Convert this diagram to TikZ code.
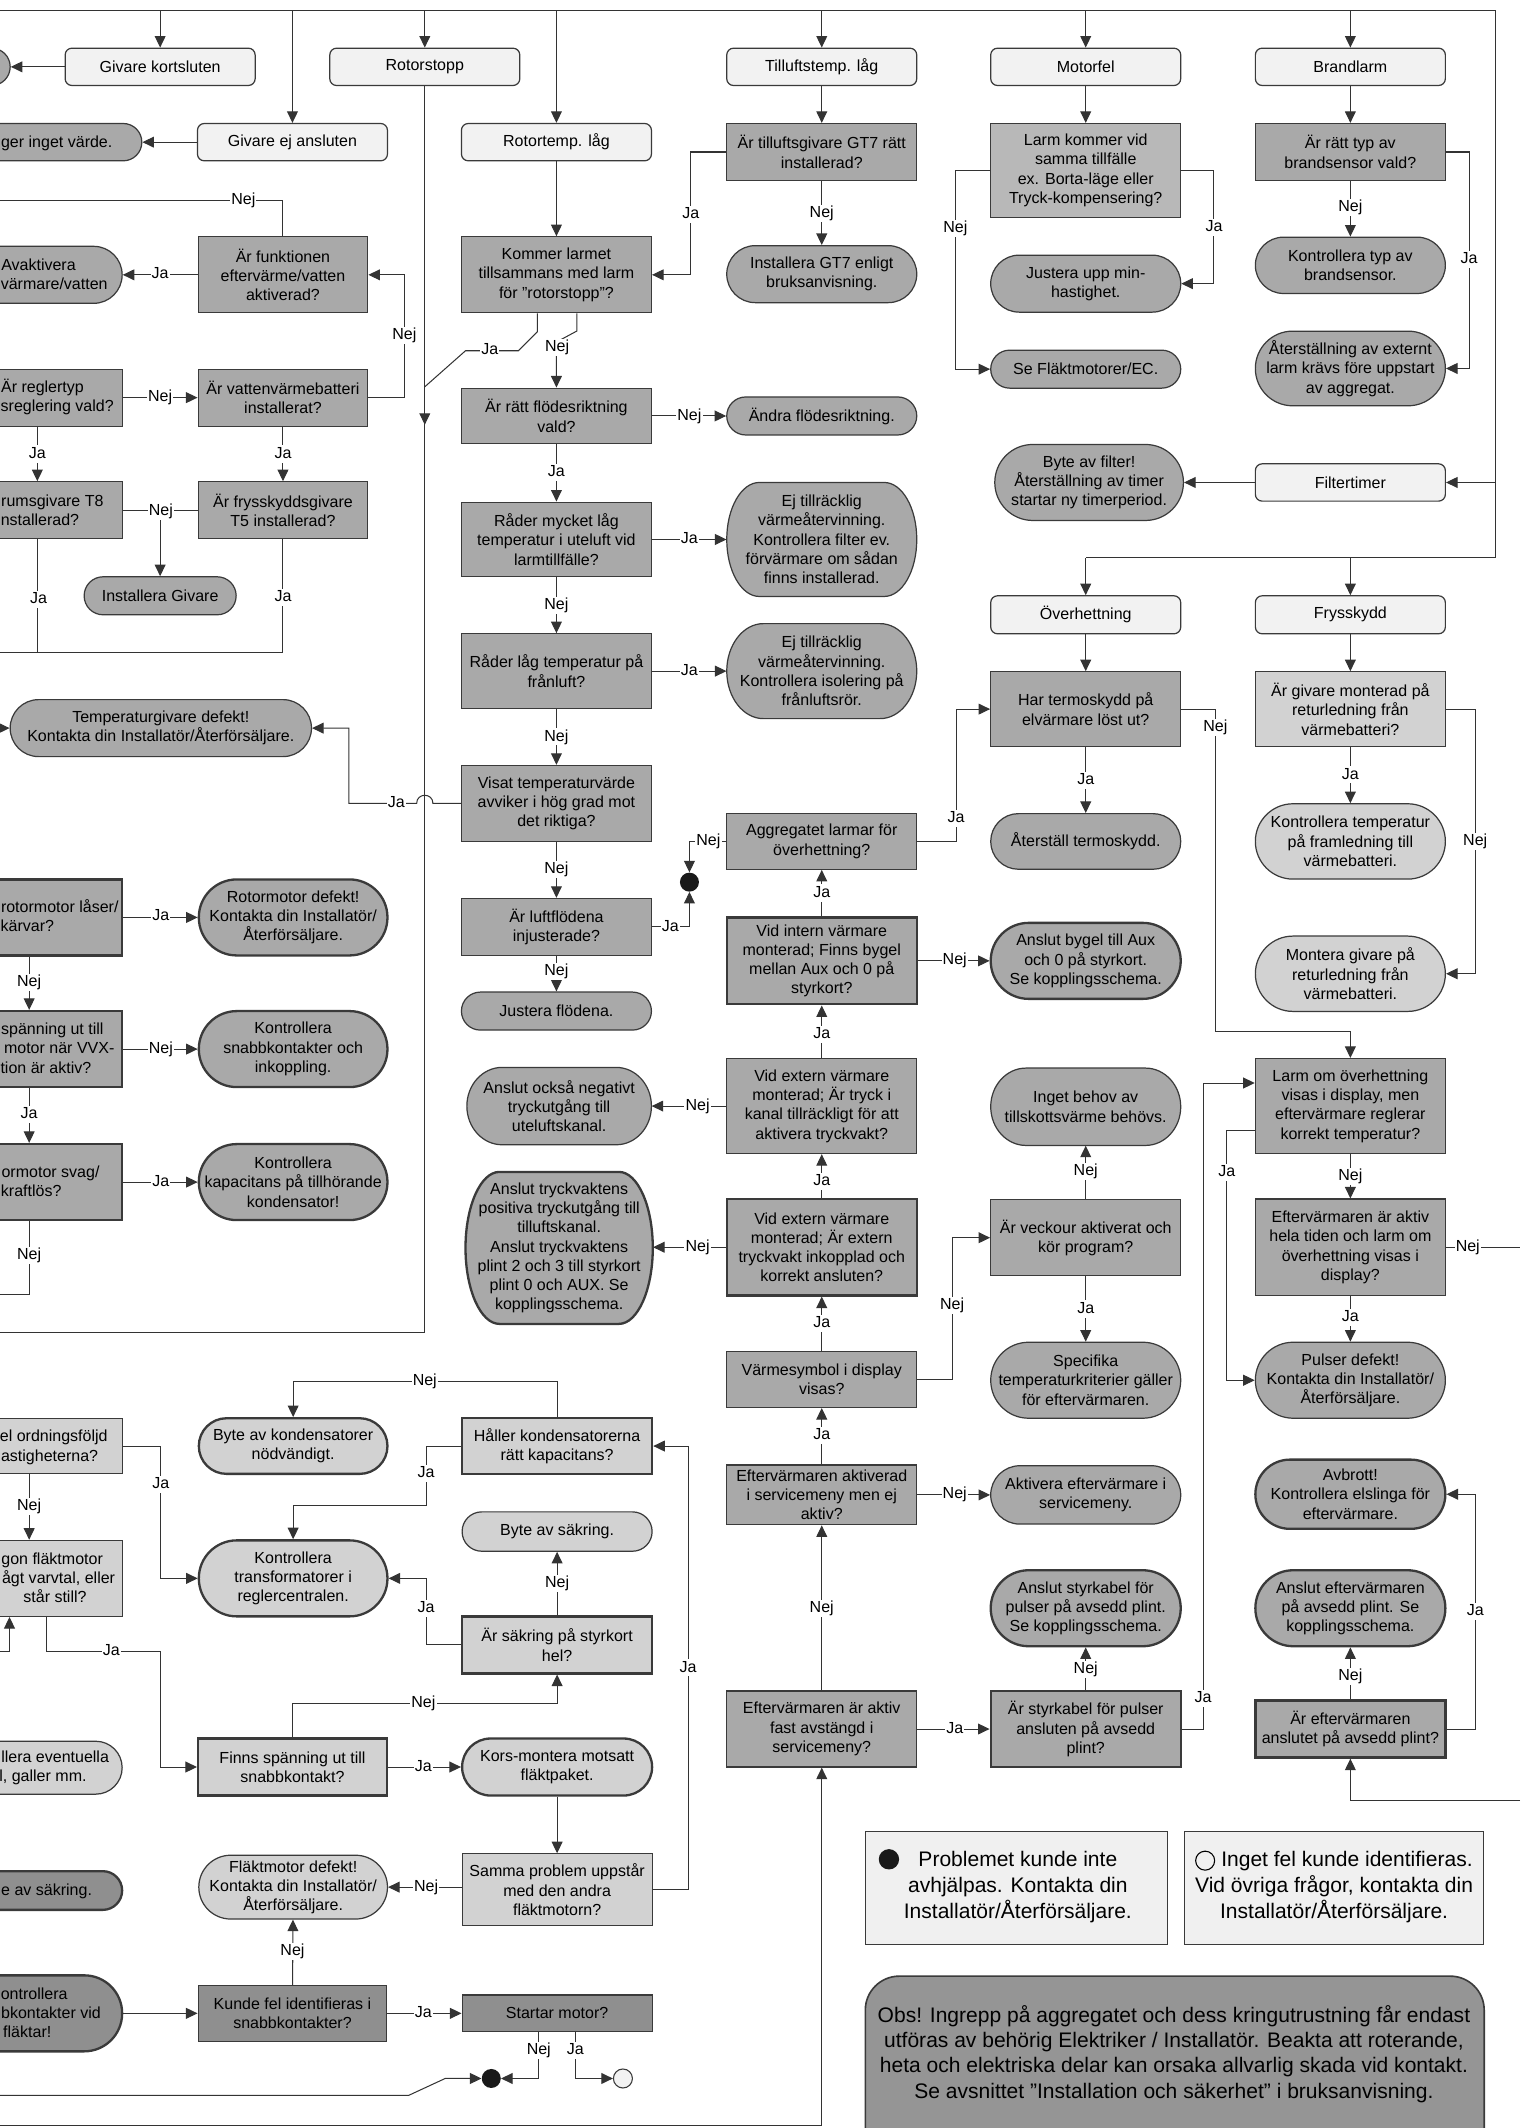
\documentclass[tikz,border=0pt]{standalone}
\usepackage{fontspec}
\setmainfont{Liberation Sans}
\usetikzlibrary{shapes.misc,arrows.meta,calc}
\newcommand{\nfnt}{\fontsize{11.8pt}{14.2pt}\selectfont}
\newcommand{\lgfnt}{\fontsize{15.5pt}{19pt}\selectfont}
\newcommand{\wnfnt}{\fontsize{15.5pt}{18.6pt}\selectfont}
\definecolor{evc}{HTML}{F2F2F2}
\definecolor{midc}{HTML}{A9A9A9}
\definecolor{lkc}{HTML}{B8B8B8}
\definecolor{lgtc}{HTML}{D2D2D2}
\definecolor{drkc}{HTML}{8F8F8F}
\definecolor{warnc}{HTML}{959595}
\definecolor{legc}{HTML}{F0F0F0}
\definecolor{linec}{HTML}{333333}
\definecolor{bordc}{HTML}{3A3A3A}
% terminator shape with elliptical ends: cx, cy, w, h, rx, style
\newcommand{\estad}[6]{%
  \pgfmathsetmacro{\esXl}{#1-#3/2}\pgfmathsetmacro{\esXr}{#1+#3/2}%
  \pgfmathsetmacro{\esYt}{#2-#4/2}\pgfmathsetmacro{\esYb}{#2+#4/2}%
  \pgfmathsetmacro{\esXil}{\esXl+#5}\pgfmathsetmacro{\esXir}{\esXr-#5}%
  \pgfmathsetmacro{\esKx}{0.5523*#5}\pgfmathsetmacro{\esKy}{0.5523*#4/2}%
  \path[#6] (\esXil,\esYt) -- (\esXir,\esYt)
    .. controls ({\esXir+\esKx},\esYt) and (\esXr,{#2-\esKy}) .. (\esXr,#2)
    .. controls (\esXr,{#2+\esKy}) and ({\esXir+\esKx},\esYb) .. (\esXir,\esYb)
    -- (\esXil,\esYb)
    .. controls ({\esXil-\esKx},\esYb) and (\esXl,{#2+\esKy}) .. (\esXl,#2)
    .. controls (\esXl,{#2-\esKy}) and ({\esXil-\esKx},\esYt) .. (\esXil,\esYt) -- cycle;%
}
\begin{document}
\begin{tikzpicture}[x=1pt,y=-1pt,
  base/.style={font=\nfnt, align=center, inner xsep=2pt, inner ysep=1pt, draw=bordc, line width=0.9pt, text=black},
  sz/.style 2 args={minimum width=#1pt, minimum height=#2pt},
  evn/.style={base, rectangle, rounded corners=5pt, fill=evc, minimum width=140pt, minimum height=27.5pt},
  box/.style={base, rectangle, fill=midc},
  stad/.style 2 args={base, rectangle, fill=midc, minimum width=#1pt, minimum height=#2pt, rounded corners={#2*0.499pt}},
  etxt/.style 2 args={font=\nfnt, align=center, inner sep=0pt, text=black, rectangle, minimum width=#1pt, minimum height=#2pt},
  eshape/.style={draw=bordc, line width=0.9pt, fill=midc},
  thk/.style={line width=1.7pt},
  lbl/.style={font=\nfnt, fill=white, inner sep=0.8pt, text height=8.5pt, text depth=2.5pt},
  ct/.style={font=\nfnt, anchor=base east, inner sep=0pt},
  con/.style={draw=linec, line width=0.75pt},
  arr/.style={con, -{Triangle[length=8.5pt,width=8pt]}},
]
\useasboundingbox (0,0) rectangle (1120,1568);
\fill[white] (0,0) rectangle (1120,1568);
\clip (0,0) rectangle (1120,1568);

% ---------- top event nodes
\node[evn] (gk) at (118,49.25) {Givare kortsluten};
\node[evn] (ro) at (313,49.25) {Rotorstopp};
\node[evn] (tl) at (605.5,49.25) {Tilluftstemp. låg};
\node[evn] (mf) at (800,49.25) {Motorfel};
\node[evn] (bl) at (995,49.25) {Brandlarm};
\node[evn] (gea) at (215.5,104.75) {Givare ej ansluten};
\node[evn] (rtl) at (410,104.75) {Rotortemp. låg};
\node[evn] (ft) at (995,355.5) {Filtertimer};
\node[evn, minimum height=28pt] (oh) at (800,453) {Överhettning};
\node[evn, minimum height=28pt] (fs) at (995,453) {Frysskydd};

% ---------- partial nodes at the left edge
\node[stad={75}{27.5}] (lc) at (-30,49.25) {};
\node[stad={165}{27.5}] (gi) at (22,104.75) {};
\node[ct] (git) at (83,108.75) {ger inget värde.};
\node[stad={150}{42}] (avak) at (15,202.5) {};
\node[ct] (avak1) at (56,199.5) {Avaktivera};
\node[ct] (avak2) at (79.5,213.5) {värmare/vatten};
\node[box, sz={150}{42}] (rt) at (15,293) {};
\node[ct] (rt1) at (62,289.5) {Är reglertyp};
\node[ct] (rt2) at (84,303.5) {sreglering vald?};
\node[box, sz={150}{42}] (rg) at (15,376) {};
\node[ct] (rg1) at (76.5,373) {rumsgivare T8};
\node[ct] (rg2) at (58.5,387) {nstallerad?};
\node[box, thk, sz={150}{56}] (rml) at (15,676) {};
\node[ct] (rml1) at (87.5,672.7) {rotormotor låser/};
\node[ct] (rml2) at (40,686.6) {kärvar?};
\node[box, thk, sz={150}{56}] (sp) at (15,773) {};
\node[ct] (sp1) at (76.5,762) {spänning ut till};
\node[ct] (sp2) at (84.5,776.6) {motor när VVX-};
\node[ct] (sp3) at (67.5,791) {tion är aktiv?};
\node[box, thk, sz={150}{56}] (sv) at (15,871) {};
\node[ct] (sv1) at (73.5,867.7) {ormotor svag/};
\node[ct] (sv2) at (45.5,881.8) {kraftlös?};
\node[box, sz={150}{41}, fill=lgtc] (of) at (15,1065.5) {};
\node[ct] (of1) at (79.5,1062) {el ordningsföljd};
\node[ct] (of2) at (72.5,1077) {astigheterna?};
\node[box, sz={150}{56}, fill=lgtc] (fm) at (15,1163) {};
\node[ct] (fm1) at (76,1153) {gon fläktmotor};
\node[ct] (fm2) at (85,1167) {ågt varvtal, eller};
\node[ct] (fm3) at (64,1181) {står still?};
\node[stad={150}{39}, fill=lgtc] (ev) at (15,1302.5) {};
\node[ct] (ev1) at (80.5,1299) {llera eventuella};
\node[ct] (ev2) at (64,1313) {l, galler mm.};
\node[stad={150}{28.5}, thk, fill=drkc] (bsak) at (15,1393) {};
\node[ct] (bsak1) at (68,1397) {e av säkring.};
\node[stad={150}{56}, thk, fill=drkc] (ksb) at (15,1483.5) {};
\node[ct] (ksb1) at (50,1473) {ontrollera};
\node[ct] (ksb2) at (74.5,1487.5) {bkontakter vid};
\node[ct] (ksb3) at (38,1501.5) {fläktar!};

% ---------- decision boxes
\node[box, sz={140}{42}] (gt7) at (605.5,112) {Är tilluftsgivare GT7 rätt\\installerad?};
\node[box, sz={140}{69}, fill=lkc] (lk) at (800,125.5) {Larm kommer vid\\samma tillfälle\\ex. Borta-läge eller\\Tryck-kompensering?};
\node[box, sz={140}{42}] (bs) at (995,112) {Är rätt typ av\\brandsensor vald?};
\node[box, sz={140}{56}] (kl) at (410,202.5) {Kommer larmet\\tillsammans med larm\\för ”rotorstopp”?};
\node[box, sz={140}{41}] (fr) at (410,306.5) {Är rätt flödesriktning\\vald?};
\node[box, sz={140}{55}] (rm) at (410,397.5) {Råder mycket låg\\temperatur i uteluft vid\\larmtillfälle?};
\node[box, sz={140}{55}] (rl) at (410,494.5) {Råder låg temperatur på\\frånluft?};
\node[box, sz={140}{56}] (vt) at (410,592) {Visat temperaturvärde\\avviker i hög grad mot\\det riktiga?};
\node[box, sz={140}{42}] (lf) at (410,683) {Är luftflödena\\injusterade?};
\node[box, sz={140}{41}] (ag) at (605.5,620) {Aggregatet larmar för\\överhettning?};
\node[box, thk, sz={140}{64}] (vi) at (605.5,708) {Vid intern värmare\\monterad; Finns bygel\\mellan Aux och 0 på\\styrkort?};
\node[box, sz={140}{70}] (vet) at (605.5,815) {Vid extern värmare\\monterad; Är tryck i\\kanal tillräckligt för att\\aktivera tryckvakt?};
\node[box, thk, sz={140}{71}] (vek) at (605.5,919) {Vid extern värmare\\monterad; Är extern\\tryckvakt inkopplad och\\korrekt ansluten?};
\node[box, sz={140}{41}] (vs) at (605.5,1016.5) {Värmesymbol i display\\visas?};
\node[box, sz={140}{44}] (eas) at (605.5,1101.5) {Eftervärmaren aktiverad\\i servicemeny men ej\\aktiv?};
\node[box, sz={140}{56}] (eaf) at (605.5,1274) {Eftervärmaren är aktiv\\fast avstängd i\\servicemeny?};
\node[box, sz={140}{55}] (ht) at (800,522.5) {Har termoskydd på\\elvärmare löst ut?};
\node[box, sz={140}{55}, fill=lgtc] (gm) at (995,522.5) {Är givare monterad på\\returledning från\\värmebatteri?};
\node[box, sz={140}{56}] (vk) at (800,912) {Är veckour aktiverat och\\kör program?};
\node[box, thk, sz={140}{56}] (sk) at (800,1274) {Är styrkabel för pulser\\ansluten på avsedd\\plint?};
\node[box, sz={140}{70}] (lo) at (995,815) {Larm om överhettning\\visas i display, men\\eftervärmare reglerar\\korrekt temperatur?};
\node[box, sz={140}{71}] (eh) at (995,919) {Eftervärmaren är aktiv\\hela tiden och larm om\\överhettning visas i\\display?};
\node[box, thk, sz={140}{42}] (ea) at (995,1274) {Är eftervärmaren\\anslutet på avsedd plint?};
\node[box, sz={125}{56}] (fu) at (208.5,202.5) {Är funktionen\\eftervärme/vatten\\aktiverad?};
\node[box, sz={125}{42}] (vv) at (208.5,293) {Är vattenvärmebatteri\\installerat?};
\node[box, sz={125}{42}] (ft5) at (208.5,376) {Är frysskyddsgivare\\T5 installerad?};
\node[box, thk, sz={140}{41}, fill=lgtc] (hk) at (410.5,1065.5) {Håller kondensatorerna\\rätt kapacitans?};
\node[box, thk, sz={140}{42}, fill=lgtc] (sps) at (410.5,1212) {Är säkring på styrkort\\hel?};
\node[box, thk, sz={139}{42}, fill=lgtc] (fsp) at (215.5,1302) {Finns spänning ut till\\snabbkontakt?};
\node[box, sz={140}{53}, fill=lgtc] (sa) at (410.5,1392.5) {Samma problem uppstår\\med den andra\\fläktmotorn?};
\node[box, sz={139}{41}, fill=drkc] (kfi) at (215.5,1483.5) {Kunde fel identifieras i\\snabbkontakter?};
\node[box, sz={140}{27}, fill=drkc] (sm) at (410.5,1483.5) {Startar motor?};

% ---------- result nodes
\node[stad={140}{42}] (gt7i) at (605.5,202) {Installera GT7 enligt\\bruksanvisning.};
\node[stad={140}{28}] (af) at (605.5,306.5) {Ändra flödesriktning.};
\estad{605.5}{397.5}{140}{84}{24}{eshape}
\node[etxt={140}{84}] (ej1) at (605.5,397.5) {Ej tillräcklig\\värmeåtervinning.\\Kontrollera filter ev.\\förvärmare om sådan\\finns installerad.};
\estad{605.5}{494.5}{140}{70}{27}{eshape}
\node[etxt={140}{70}] (ej2) at (605.5,494.5) {Ej tillräcklig\\värmeåtervinning.\\Kontrollera isolering på\\frånluftsrör.};
\node[stad={140}{28}] (ja) at (410,745) {Justera flödena.};
\estad{412}{815}{136}{57}{26}{eshape}
\node[etxt={136}{57}] (ao) at (412,815) {Anslut också negativt\\tryckutgång till\\uteluftskanal.};
\estad{412}{919.5}{138}{112}{25}{eshape, thk}
\node[etxt={138}{112}] (at) at (412,919.5) {Anslut tryckvaktens\\positiva tryckutgång till\\tilluftskanal.\\Anslut tryckvaktens\\plint 2 och 3 till styrkort\\plint 0 och AUX. Se\\kopplingsschema.};
\node[stad={140}{42}] (ju) at (800,209) {Justera upp min-\\hastighet.};
\node[stad={140}{28}] (sf) at (800,272) {Se Fläktmotorer/EC.};
\node[stad={140}{41.5}] (kb) at (995,195.5) {Kontrollera typ av\\brandsensor.};
\node[stad={140}{55}] (as) at (995,271.5) {Återställning av externt\\larm krävs före uppstart\\av aggregat.};
\node[stad={139}{56}] (bf) at (802.5,355.5) {Byte av filter!\\Återställning av timer\\startar ny timerperiod.};
\node[stad={140}{41}] (ats) at (800,620) {Återställ termoskydd.};
\node[stad={140}{55.5}, fill=lgtc] (kt2) at (995,620) {Kontrollera temperatur\\på framledning till\\värmebatteri.};
\node[stad={140}{55.5}, fill=lgtc] (mg) at (995,717.5) {Montera givare på\\returledning från\\värmebatteri.};
\node[stad={140}{56}, thk] (ab) at (800,708) {Anslut bygel till Aux\\och 0 på styrkort.\\Se kopplingsschema.};
\estad{800}{815.5}{140}{57}{26}{eshape}
\node[etxt={140}{57}] (ib) at (800,815.5) {Inget behov av\\tillskottsvärme behövs.};
\node[stad={140}{56}] (spf) at (800,1017) {Specifika\\temperaturkriterier gäller\\för eftervärmaren.};
\node[stad={140}{43}] (aet) at (800,1101.5) {Aktivera eftervärmare i\\servicemeny.};
\node[stad={140}{56}, thk] (asp) at (800,1185) {Anslut styrkabel för\\pulser på avsedd plint.\\Se kopplingsschema.};
\node[stad={140}{56}] (pd) at (995,1017) {Pulser defekt!\\Kontakta din Installatör/\\Återförsäljare.};
\node[stad={140}{51}, thk] (av) at (995,1101) {Avbrott!\\Kontrollera elslinga för\\eftervärmare.};
\node[stad={140}{56}, thk] (aep) at (995,1185) {Anslut eftervärmaren\\på avsedd plint. Se\\kopplingsschema.};
\node[stad={112}{28}] (ig) at (118,439) {Installera Givare};
\node[stad={222}{42}] (td) at (118.5,536.5) {Temperaturgivare defekt!\\Kontakta din Installatör/Återförsäljare.};
\node[stad={139}{56}, thk] (rmd) at (216,676) {Rotormotor defekt!\\Kontakta din Installatör/\\Återförsäljare.};
\node[stad={139}{56}, thk] (ks) at (216,773) {Kontrollera\\snabbkontakter och\\inkoppling.};
\node[stad={139}{56}, thk] (kk) at (216,871) {Kontrollera\\kapacitans på tillhörande\\kondensator!};
\node[stad={139}{41}, thk, fill=lgtc] (bk) at (216,1065.5) {Byte av kondensatorer\\nödvändigt.};
\node[stad={140}{29}, fill=lgtc] (bsa) at (410.5,1128.5) {Byte av säkring.};
\node[stad={139}{56}, thk, fill=lgtc] (kt) at (216,1163) {Kontrollera\\transformatorer i\\reglercentralen.};
\node[stad={140}{42}, thk, fill=lgtc] (km) at (410.5,1302) {Kors-montera motsatt\\fläktpaket.};
\node[stad={139}{47}, fill=lgtc] (fmd) at (216,1390.5) {Fläktmotor defekt!\\Kontakta din Installatör/\\Återförsäljare.};

% terminal circles
\node[circle, fill=black!90, minimum size=14pt, inner sep=0pt] (bc) at (508,650) {};
\node[circle, fill=black!90, minimum size=14pt, inner sep=0pt] (bc2) at (362,1531.5) {};
\node[circle, draw=bordc, line width=0.8pt, fill=evc, minimum size=14pt, inner sep=0pt] (wc) at (459,1531.5) {};

% ---------- legend and warning
\node[draw=bordc, line width=0.9pt, fill=legc, sz={222}{83.5}] (lg1) at (749,1391) {};
\node[font=\lgfnt, align=center] (lg1t) at (750,1390.5) {Problemet kunde inte\\avhjälpas. Kontakta din\\Installatör/Återförsäljare.};
\node[circle, fill=black!90, minimum size=15pt, inner sep=0pt] (lg1d) at (655,1370) {};
\node[draw=bordc, line width=0.9pt, fill=legc, sz={220}{83.5}] (lg2) at (983,1391) {};
\node[font=\lgfnt, align=center] (lg2t) at (983,1390.5) {\hspace*{19pt}Inget fel kunde identifieras.\\Vid övriga frågor, kontakta din\\Installatör/Återförsäljare.};
\node[circle, draw=black, line width=0.8pt, minimum size=14pt, inner sep=0pt] (lg2c) at (888,1371) {};
\node[draw=bordc, line width=1.2pt, fill=warnc, rounded corners=25pt, sz={456}{150}, anchor=north west] (wb) at (637,1455.5) {};
\node[font=\wnfnt, align=center] (wbt) at (865,1513.5) {Obs! Ingrepp på aggregatet och dess kringutrustning får endast\\utföras av behörig Elektriker / Installatör. Beakta att roterande,\\heta och elektriska delar kan orsaka allvarlig skada vid kontakt.\\Se avsnittet ”Installation och säkerhet” i bruksanvisning.};

% ---------- connectors
\coordinate (tb0) at (0,7.4);
\coordinate (tb1) at (1102,7.4);
\coordinate (rb) at (1102,411);
\draw[con] (tb0) -- (tb1) -- (rb) -- (oh |- rb);
\foreach \n in {gk,gea,ro,rtl,tl,mf,bl} { \draw[arr] (\n |- tb0) -- (\n); }
\draw[arr] (oh |- rb) -- (oh);
\draw[arr] (fs |- rb) -- (fs);
\draw[arr] (ft -| tb1) -- (ft);
\draw[arr] (ft) -- (bf);
\draw[arr] (gk) -- (lc);
\draw[arr] (gea) -- (gi);
% rotorstopp line
\draw[con] (ro.south) -- (313,982) -- (0,982);
\draw[con] ([xshift=-14pt]kl.south) -- ++(0,13.5) -- ++(-14,14) -- ++(-39,0) -- (313,285);
\draw[arr] (313,284) -- (313,313);
\draw[arr] ([xshift=15pt]kl.south) -- ++(0,13) -- (410,252) -- (fr);
\draw[arr] (gt7.west) -- (509,112) -- (509,202.5) -- (kl.east);
\draw[arr] (gt7) -- (gt7i);
\draw[arr] (tl) -- (gt7);
\draw[arr] (rtl) -- (kl);
\draw[arr] (fr) -- (af);
\draw[arr] (fr) -- (rm);
\draw[arr] (rm) -- (ej1);
\draw[arr] (rm) -- (rl);
\draw[arr] (rl) -- (ej2);
\draw[arr] (rl) -- (vt);
\draw[arr] (vt.west) -- (319,592) .. controls (319,584) and (307,584) .. (307,592) -- (257,592) -- (257,536.5) -- (td.east);
\draw[arr] (vt) -- (lf);
\draw[arr] (lf.east) -- (508,683) -- (bc.south);
\draw[arr] (ag.west) -- (508,620) -- (bc.north);
\draw[arr] (lf) -- (ja);
\draw[arr] (ag.east) -- (704.5,620) -- (704.5,522.5) -- (ht.west);
\draw[arr] (vi) -- (ag);
\draw[arr] (vi) -- (ab);
\draw[arr] (vet) -- (vi);
\draw[arr] (vet) -- (ao);
\draw[arr] (vek) -- (vet);
\draw[arr] (vek.west) -- (at.east |- vek.west);
\draw[arr] (vs) -- (vek);
\draw[arr] (vs.east) -- (701.5,1016.5) -- (701.5,912) -- (vk.west);
\draw[arr] (eas) -- (vs);
\draw[arr] (eas) -- (aet);
\draw[arr] (eaf) -- (eas);
\draw[arr] (eaf) -- (sk);
\draw[arr] (0,1566) -- (eaf |- 0,1566) -- (eaf.south);
\draw[arr] (mf) -- (lk);
\draw[arr] (lk.east) -- (894.5,125.5) -- (894.5,209) -- (ju.east);
\draw[arr] (lk.west) -- (704,125.5) -- (704,272) -- (sf.west);
\draw[arr] (bl) -- (bs);
\draw[arr] (bs) -- (kb);
\draw[arr] (bs.east) -- (1082.5,112) -- (1082.5,271.5) -- (as.east);
\draw[arr] (oh) -- (ht);
\draw[arr] (ht) -- (ats);
\draw[arr] (ht.east) -- (895.5,522.5) -- (895.5,760) -- (995,760) -- (lo.north);
\draw[arr] (fs) -- (gm);
\draw[arr] (gm) -- (kt2);
\draw[arr] (gm.east) -- (1087,522.5) -- (1087,717.5) -- (mg.east);
\draw[arr] ([yshift=-18pt]lo.west) -- (904,833) -- (904,1017) -- (pd.west);
\draw[arr] (lo) -- (eh);
\draw[arr] (eh) -- (pd);
\draw[con] (eh.east) -- (1120,919);
\draw[arr] (sk.east) -- (886.5,1274) -- (886.5,798) -- ([yshift=17pt]lo.west);
\draw[arr] (sk) -- (asp);
\draw[arr] (vk) -- (ib);
\draw[arr] (vk) -- (spf);
\draw[arr] (ea) -- (aep);
\draw[arr] (ea.east) -- (1087,1274) -- (1087,1101) -- (av.east);
\draw[arr] (1120,1327) -- (995,1327) -- (ea.south);
% left part
\draw[con] (fu.north) -- (208.5,148) -- (0,148);
\draw[arr] (fu) -- (avak);
\draw[arr] (vv.east) -- (298,293) -- (298,202.5) -- (fu.east);
\draw[arr] (rt) -- (vv);
\draw[arr] ([xshift=12.5pt]rt.south) -- ([xshift=12.5pt]rg.north);
\draw[arr] (vv) -- (ft5);
\draw[con] (rg.east) -- (ft5.west);
\draw[arr] (118,376) -- (ig.north);
\draw[con] ([xshift=12.5pt]rg.south) -- (27.5,480.5);
\draw[con] (ft5.south) -- (208.5,480.5) -- (0,480.5);
\draw[arr] (-20,536.5) -- (td.west);
\draw[arr] (rml) -- (rmd);
\draw[arr] ([xshift=6.5pt]rml.south) -- ([xshift=6.5pt]sp.north);
\draw[arr] (sp) -- (ks);
\draw[arr] ([xshift=6.5pt]sp.south) -- ([xshift=6.5pt]sv.north);
\draw[arr] (sv) -- (kk);
\draw[con] ([xshift=6.5pt]sv.south) -- (21.5,954) -- (0,954);
\draw[arr] (of.east) -- (118.5,1065.5) -- (118.5,1163) -- (kt.west);
\draw[arr] ([xshift=6.5pt]of.south) -- ([xshift=6.5pt]fm.north);
\draw[arr] (hk.north) -- (410.5,1018) -- (216,1018) -- (bk.north);
\draw[arr] (hk.west) -- (314,1065.5) -- (314,1109) -- (216,1109) -- (kt.north);
\draw[arr] (sps.west) -- (314,1212) -- (314,1163) -- (kt.east);
\draw[arr] (sps) -- (bsa);
\draw[arr] (fsp.north) -- (215.5,1255) -- (410.5,1255) -- (sps.south);
\draw[arr] (fsp) -- (km);
\draw[arr] (km) -- (sa);
\draw[arr] (sa.east) -- (507,1392.5) -- (507,1065.5) -- (hk.east);
\draw[arr] (sa.west |- fmd) -- (fmd.east);
\draw[arr] (kfi) -- (fmd);
\draw[arr] (kfi) -- (sm);
\draw[arr] (ksb) -- (kfi);
\draw[arr] ([xshift=-13.5pt]sm.south) -- (397,1531.5) -- (bc2.east);
\draw[arr] ([xshift=13.5pt]sm.south) -- (424,1531.5) -- (wc.west);
\draw[arr] (0,1544) -- (301,1544) -- (328,1531.5) -- (bc2.west);
\draw[arr] (0,1217) -- (7,1217) -- (fm.south -| 7,0);
\draw[arr] ([xshift=19.5pt]fm.south) -- (34.5,1217) -- (118.5,1217) -- (118.5,1302) -- (fsp.west);

% ---------- connector labels
\node[lbl] (l01) at (361,258) {Ja};
\node[lbl] (l02) at (410.5,256) {Nej};
\node[lbl] (l03) at (509,158) {Ja};
\node[lbl] (l04) at (605.5,157) {Nej};
\node[lbl] (l05) at (508,306.5) {Nej};
\node[lbl] (l06) at (410,348) {Ja};
\node[lbl] (l07) at (508,397.5) {Ja};
\node[lbl] (l08) at (410,446) {Nej};
\node[lbl] (l09) at (508,494.5) {Ja};
\node[lbl] (l10) at (410,543) {Nej};
\node[lbl] (l11) at (292,592) {Ja};
\node[lbl] (l12) at (410,640.5) {Nej};
\node[lbl] (l13) at (494,683) {Ja};
\node[lbl] (l14) at (522,620) {Nej};
\node[lbl] (l15) at (410,716) {Nej};
\node[lbl] (l16) at (704.5,603) {Ja};
\node[lbl] (l17) at (605.5,658) {Ja};
\node[lbl] (l18) at (703.5,708) {Nej};
\node[lbl] (l19) at (605.5,762) {Ja};
\node[lbl] (l20) at (514,815) {Nej};
\node[lbl] (l21) at (605.5,870.5) {Ja};
\node[lbl] (l22) at (514,919) {Nej};
\node[lbl] (l23) at (605.5,975) {Ja};
\node[lbl] (l24) at (701.5,962) {Nej};
\node[lbl] (l25) at (605.5,1058) {Ja};
\node[lbl] (l26) at (703.5,1101.5) {Nej};
\node[lbl] (l27) at (605.5,1185) {Nej};
\node[lbl] (l28) at (703.5,1274) {Ja};
\node[lbl] (l29) at (894.5,167.5) {Ja};
\node[lbl] (l30) at (704,168.5) {Nej};
\node[lbl] (l31) at (995,153) {Nej};
\node[lbl] (l32) at (1082.5,191.5) {Ja};
\node[lbl] (l33) at (800,575) {Ja};
\node[lbl] (l34) at (895.5,536) {Nej};
\node[lbl] (l35) at (995,571) {Ja};
\node[lbl] (l36) at (1087,620) {Nej};
\node[lbl] (l37) at (904,864) {Ja};
\node[lbl] (l38) at (995,867) {Nej};
\node[lbl] (l39) at (995,971) {Ja};
\node[lbl] (l40) at (1081.5,919) {Nej};
\node[lbl] (l41) at (886.5,1251.5) {Ja};
\node[lbl] (l42) at (800,1230) {Nej};
\node[lbl] (l43) at (800,863) {Nej};
\node[lbl] (l44) at (800,964.5) {Ja};
\node[lbl] (l45) at (995,1235.5) {Nej};
\node[lbl] (l46) at (1087,1187.5) {Ja};
\node[lbl] (l47) at (179.3,148) {Nej};
\node[lbl] (l48) at (118,202.5) {Ja};
\node[lbl] (l49) at (298,247.5) {Nej};
\node[lbl] (l50) at (118,293) {Nej};
\node[lbl] (l51) at (27.5,334.5) {Ja};
\node[lbl] (l52) at (208.5,334.5) {Ja};
\node[lbl] (l53) at (118.5,376.5) {Nej};
\node[lbl] (l54) at (28.5,442) {Ja};
\node[lbl] (l55) at (208.5,440) {Ja};
\node[lbl] (l56) at (118.5,675.5) {Ja};
\node[lbl] (l57) at (21.5,724) {Nej};
\node[lbl] (l58) at (118.5,773) {Nej};
\node[lbl] (l59) at (21.5,821.5) {Ja};
\node[lbl] (l60) at (118.5,871) {Ja};
\node[lbl] (l61) at (21.5,925) {Nej};
\node[lbl] (l62) at (118.5,1094) {Ja};
\node[lbl] (l63) at (21.5,1110) {Nej};
\node[lbl] (l64) at (313,1018) {Nej};
\node[lbl] (l65) at (314,1086) {Ja};
\node[lbl] (l66) at (314,1185) {Ja};
\node[lbl] (l67) at (410.5,1166.5) {Nej};
\node[lbl] (l68) at (312,1255) {Nej};
\node[lbl] (l69) at (312,1302) {Ja};
\node[lbl] (l70) at (507,1229) {Ja};
\node[lbl] (l71) at (314,1390.5) {Nej};
\node[lbl] (l72) at (215.5,1438) {Nej};
\node[lbl] (l73) at (312,1483.5) {Ja};
\node[lbl] (l74) at (397,1511) {Nej};
\node[lbl] (l75) at (424,1511) {Ja};
\node[lbl] (l76) at (82,1217) {Ja};
\end{tikzpicture}
\end{document}
